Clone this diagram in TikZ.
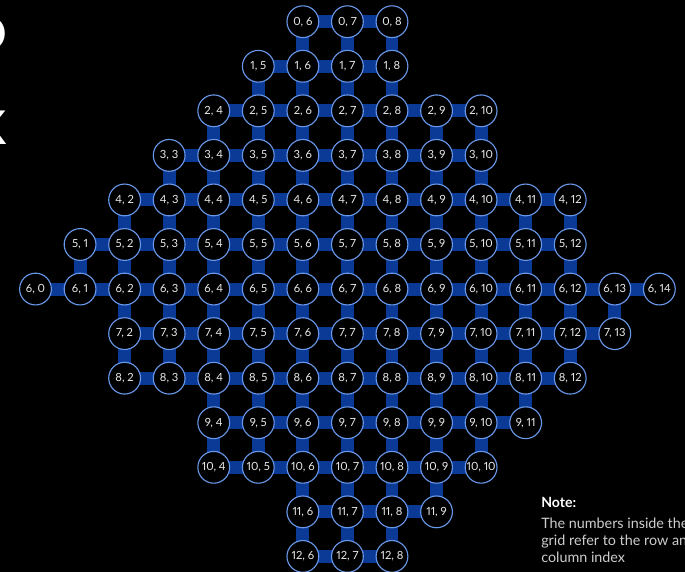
\documentclass[tikz,border=0pt]{standalone}
\usepackage{fontspec}
\setmainfont{Lato}[Numbers=Proportional]
\usetikzlibrary{backgrounds}

\definecolor{chipbar}{RGB}{11,58,150}
\definecolor{chipring}{RGB}{105,152,235}
\definecolor{chiptext}{RGB}{236,236,236}
\definecolor{notegray}{RGB}{205,205,205}

\tikzset{
  qubit/.style={circle, draw=chipring, fill=black, line width=0.8pt,
    minimum size=22.6pt, inner sep=0pt, text=chiptext,
    font=\fontsize{8}{9}\selectfont},
  coupler/.style={draw=chipbar, line width=9.2pt},
}

\begin{document}
\begin{tikzpicture}[x=0.025cm, y=-0.025cm]
\useasboundingbox (0,0) rectangle (685,572);

% qubits, one row at a time
\foreach \r/\first/\last in {0/6/8, 1/5/8, 2/4/10, 3/3/10, 4/2/12, 5/1/12,
    6/0/14, 7/2/13, 8/2/12, 9/4/11, 10/4/10, 11/6/9, 12/6/8}
  \foreach \c in {\first,...,\last}
    \node[qubit] (\r-\c) at (35.5+44.56*\c, 21.7+44.56*\r) {\r, \c};

% cut off heading letters at the left
\node[anchor=east, inner sep=0pt, text=white, font=\bfseries\fontsize{33}{33}\selectfont] (headO) at (7,34) {O};
\node[anchor=east, inner sep=0pt, text=white, font=\bfseries\fontsize{33}{33}\selectfont] (headK) at (7,128) {K};

% note
\node[anchor=north west, inner sep=0pt, text=white, font=\bfseries\fontsize{10}{12}\selectfont] (notehead) at (541,497) {Note:};
\node[anchor=north west, inner sep=0pt, text=notegray, align=left, font=\fontsize{10.2}{11.9}\selectfont] (notebody) at (541,518) {The numbers inside the\\grid refer to the row and\\column index};

% couplers behind the qubits
\begin{scope}[on background layer]
  \fill[black] (0,0) rectangle (685,572);
  % along the rows
  \foreach \r/\first/\last in {0/6/8, 1/5/8, 2/4/10, 3/3/10, 4/2/12, 5/1/12,
      6/0/14, 7/2/13, 8/2/12, 9/4/11, 10/4/10, 11/6/9, 12/6/8} {
    \pgfmathtruncatemacro{\lastleft}{\last-1}
    \foreach \c in {\first,...,\lastleft} {
      \pgfmathtruncatemacro{\cnext}{\c+1}
      \draw[coupler] (\r-\c.center) -- (\r-\cnext.center);
    }
  }
  % down the columns
  \foreach \r/\first/\last in {0/6/8, 1/5/8, 2/4/10, 3/3/10, 4/2/12, 5/1/12,
      6/2/13, 7/2/12, 8/4/11, 9/4/10, 10/6/9, 11/6/8} {
    \pgfmathtruncatemacro{\rnext}{\r+1}
    \foreach \c in {\first,...,\last}
      \draw[coupler] (\r-\c.center) -- (\rnext-\c.center);
  }
\end{scope}
\end{tikzpicture}
\end{document}
